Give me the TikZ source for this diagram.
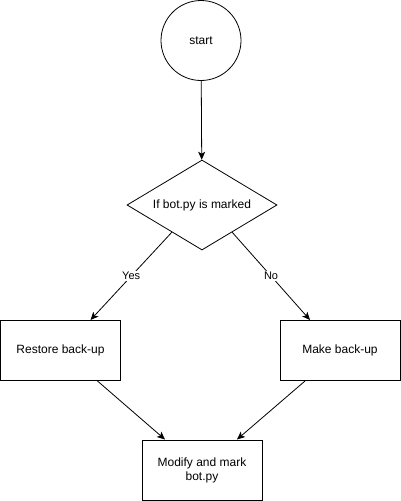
\documentclass[tikz,border=0pt]{standalone}
\usepackage{fontspec}
\setmainfont{Liberation Sans}
\usetikzlibrary{shapes.geometric,arrows.meta,calc}
\begin{document}
\begin{tikzpicture}[x=1pt,y=-1pt,
  every node/.style={font=\fontsize{12}{14}\selectfont},
  box/.style={draw,line width=1pt,minimum width=120pt,minimum height=60pt,inner sep=0pt,align=center},
  arr/.style={draw,line width=0.8pt,-{Stealth[length=8pt,width=7pt,inset=2pt]}},
  lbl/.style={fill=white,inner sep=1pt,font=\fontsize{11}{13}\selectfont}]
\useasboundingbox (0,0) rectangle (401,501);
\node[draw,circle,line width=0.8pt,minimum size=80pt,inner sep=0pt] (start) at (201,40.5) {start};
\node[draw,diamond,aspect=1.667,line width=0.8pt,minimum width=150pt,minimum height=90pt,inner sep=0pt] (dec) at (202,205) {If bot.py is marked};
\node[box] (restore) at (60.5,350.5) {Restore back-up};
\node[box] (make) at (340,350.5) {Make back-up};
\node[box] (modify) at (202,470) {Modify and mark\\bot.py};
\coordinate (dl) at ($(dec.west)!0.6!(dec.south)$);
\coordinate (dr) at ($(dec.east)!0.6!(dec.south)$);
\coordinate (rt) at ($(restore.north)+(30,0)$);
\coordinate (mt) at ($(make.north)+(-30,0)$);
\draw[arr] (start) -- (dec);
\draw[arr] (dl) -- node[lbl,midway] {Yes} (rt);
\draw[arr] (dr) -- node[lbl,midway] {No} (mt);
\draw[arr] ($(restore.south)+(37,0)$) -- ($(modify.north)+(-37,0)$);
\draw[arr] ($(make.south)+(-35,0)$) -- ($(modify.north)+(35,0)$);
\end{tikzpicture}
\end{document}
